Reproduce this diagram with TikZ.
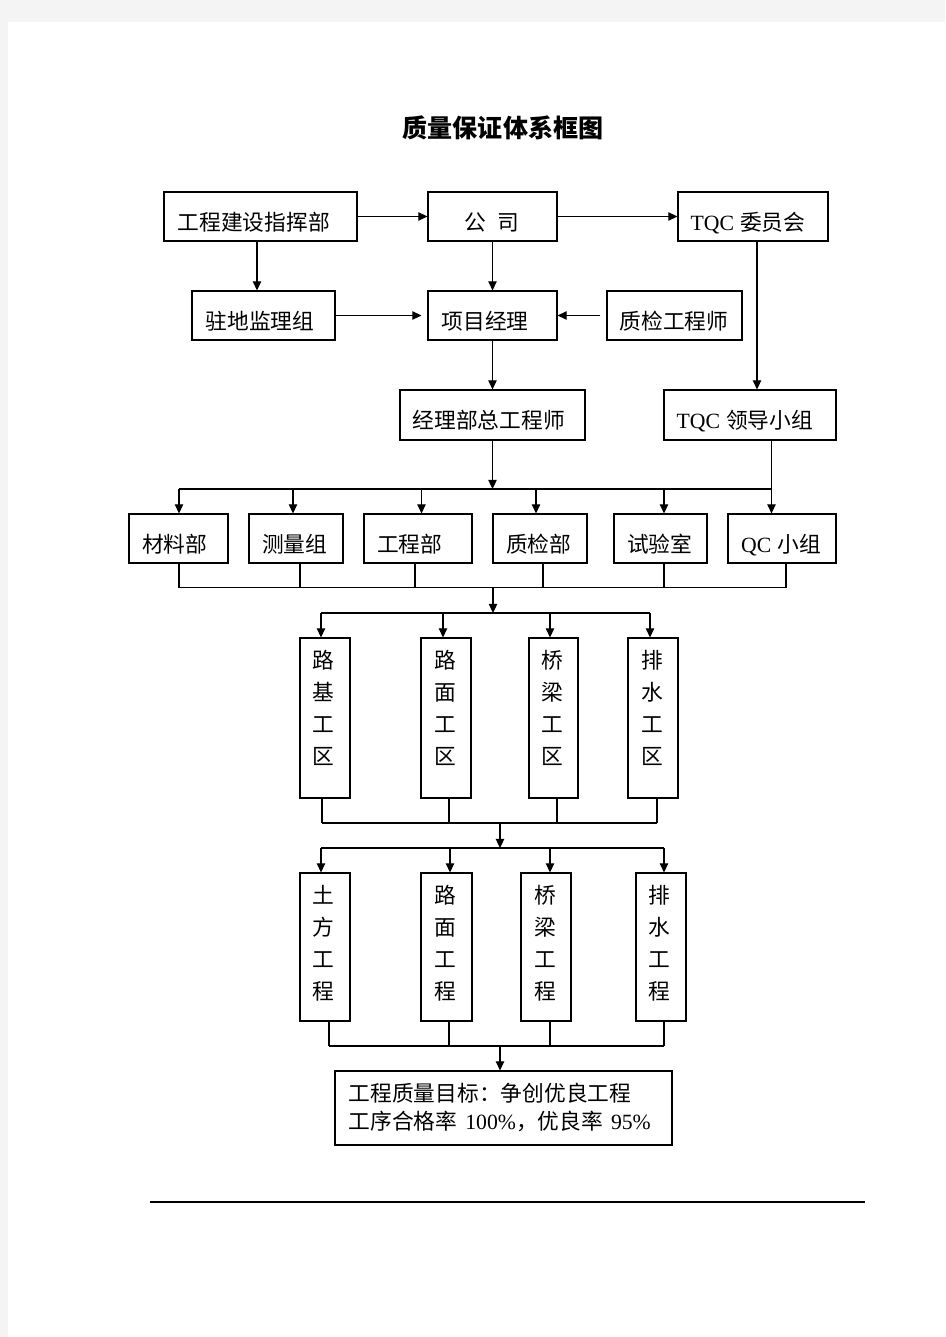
\documentclass[tikz,border=0pt]{standalone}
\usepackage{fontspec}
\setmainfont{Liberation Serif}
\newfontfamily\cjk{Noto Sans CJK SC}
\usetikzlibrary{arrows.meta,calc,fit}
\definecolor{pagegray}{HTML}{F4F4F4}
\newcommand{\lat}[1]{{\rmfamily #1}}
\tikzset{
  box/.style={draw, line width=0.85pt, inner sep=0pt},
  lbl/.style={anchor=west, inner sep=0pt, font={\cjk\fontsize{16.3}{20}\selectfont}, text height=13.5pt, text depth=1.1pt},
  vlbl/.style={anchor=north, inner sep=0pt, align=center, font={\cjk\fontsize{16.3}{23.8}\selectfont}},
  qlbl/.style={anchor=west, inner sep=0pt, align=left, font={\cjk\fontsize{16.3}{21}\selectfont}},
  arr/.style={line width=0.85pt, -{Triangle[length=6.8pt,width=6.3pt]}},
  ln/.style={line width=0.8pt}
}
\begin{document}
\begin{tikzpicture}[x=0.75pt,y=-0.75pt]
\useasboundingbox (0,0) rectangle (945,1337);
\fill[pagegray] (0,0) rectangle (945,1337);
\fill[white] (8,22) rectangle (945,1337);

% title
\node[inner sep=0pt, font={\cjk\bfseries\fontsize{18.8}{22}\selectfont}] (title) at (503,128) {质量保证体系框图};

% boxes
\node[box, fit={(164,192)(357,241)}] (A) {};
\node[box, fit={(428,192)(557,241)}] (B) {};
\node[box, fit={(678,192)(828,241)}] (C) {};
\node[box, fit={(192,291)(335,340)}] (D) {};
\node[box, fit={(428,291)(557,340)}] (E) {};
\node[box, fit={(607,291)(742,340)}] (F) {};
\node[box, fit={(400,390)(585,440)}] (G) {};
\node[box, fit={(664,390)(836,440)}] (H) {};
\node[box, fit={(129,514)(228,563)}] (M1) {};
\node[box, fit={(249,514)(343,563)}] (M2) {};
\node[box, fit={(364,514)(472,563)}] (M3) {};
\node[box, fit={(493,514)(587,563)}] (M4) {};
\node[box, fit={(614,514)(707,563)}] (M5) {};
\node[box, fit={(728,514)(836,563)}] (M6) {};
\node[box, fit={(300,638)(350,798)}] (W1) {};
\node[box, fit={(421,638)(471,798)}] (W2) {};
\node[box, fit={(529,638)(578,798)}] (W3) {};
\node[box, fit={(628,638)(678,798)}] (W4) {};
\node[box, fit={(300,873)(350,1021)}] (P1) {};
\node[box, fit={(421,873)(472,1021)}] (P2) {};
\node[box, fit={(521,873)(571,1021)}] (P3) {};
\node[box, fit={(636,873)(686,1021)}] (P4) {};
\node[box, fit={(335,1071)(672,1145)}] (Q) {};

% labels
\node[lbl] (At) at ($(A.west)+(14,5.5)$) {工程建设指挥部};
\node[lbl] (Bt) at ($(B.west)+(37,5.5)$) {公\hspace{8.3pt}司};
\node[lbl] (Ct) at ($(C.west)+(13,5.5)$) {\lat{TQC}\hspace{4.5pt}委员会};
\node[lbl] (Dt) at ($(D.west)+(14,5.5)$) {驻地监理组};
\node[lbl] (Et) at ($(E.west)+(14,5.5)$) {项目经理};
\node[lbl] (Ft) at ($(F.west)+(13,5.5)$) {质检工程师};
\node[lbl] (Gt) at ($(G.west)+(13,5.5)$) {经理部总工程师};
\node[lbl] (Ht) at ($(H.west)+(13,5.5)$) {\lat{TQC}\hspace{4.5pt}领导小组};
\node[lbl] (M1t) at ($(M1.west)+(13.5,5.5)$) {材料部};
\node[lbl] (M2t) at ($(M2.west)+(13.5,5.5)$) {测量组};
\node[lbl] (M3t) at ($(M3.west)+(13.5,5.5)$) {工程部};
\node[lbl] (M4t) at ($(M4.west)+(13.5,5.5)$) {质检部};
\node[lbl] (M5t) at ($(M5.west)+(13.5,5.5)$) {试验室};
\node[lbl] (M6t) at ($(M6.west)+(13.5,5.5)$) {\lat{QC}\hspace{4.5pt}小组};
\node[vlbl] (W1t) at ($(W1.north)+(-2,13)$) {路\\基\\工\\区};
\node[vlbl] (W2t) at ($(W2.north)+(-1,13)$) {路\\面\\工\\区};
\node[vlbl] (W3t) at ($(W3.north)+(-1,13)$) {桥\\梁\\工\\区};
\node[vlbl] (W4t) at ($(W4.north)+(-1,13)$) {排\\水\\工\\区};
\node[vlbl] (P1t) at ($(P1.north)+(-2,13)$) {土\\方\\工\\程};
\node[vlbl] (P2t) at ($(P2.north)+(-1,13)$) {路\\面\\工\\程};
\node[vlbl] (P3t) at ($(P3.north)+(-1,13)$) {桥\\梁\\工\\程};
\node[vlbl] (P4t) at ($(P4.north)+(-2,13)$) {排\\水\\工\\程};
\node[qlbl] (Qt) at ($(Q.west)+(14,-1)$) {工程质量目标：争创优良工程\\工序合格率\hspace{6pt}\lat{100\%}，优良率\hspace{6pt}\lat{95\%}};

% top connectors
\coordinate (xad) at (257,0);
\coordinate (xch) at (757,0);
\coordinate (xhq) at (771.5,0);
\draw[arr] (A.east) -- (B.west);
\draw[arr] (B.east) -- (C.west);
\draw[arr] (A.south -| xad) -- (D.north -| xad);
\draw[arr] (B.south) -- (E.north);
\draw[arr] (D.east) -- ($(E.west)+(-6,0)$);
\draw[arr] ($(F.west)+(-6,0)$) -- (E.east);
\draw[arr] (C.south -| xch) -- (H.north -| xch);
\draw[arr] (E.south) -- (G.north);
\draw[arr] (H.south -| xhq) -- (M6.north -| xhq);

% bus 1
\coordinate (j1) at (492.5,489);
\draw[arr] (G.south) -- (j1);
\coordinate (b1a) at (179,489);
\coordinate (b1b) at (771.5,489);
\draw[ln] (b1a) -- (b1b);
\foreach \x/\n in {179/M1,293/M2,421.5/M3,536/M4,664/M5}{
  \coordinate (d\n) at (\x,489);
  \draw[arr] (d\n) -- (d\n |- \n.north);
}
\foreach \x/\n in {179/M1,300/M2,415/M3,543/M4,664/M5,786/M6}{
  \coordinate (u\n) at (\x,587.7);
  \draw[ln] (u\n |- \n.south) -- (u\n);
}
\draw[ln] (uM1) -- (uM6);
\coordinate (j2) at (493,587.7);
\coordinate (k2) at (493,613);
\draw[arr] (j2) -- (k2);

% bus 2
\foreach \x/\n in {321/W1,443/W2,550/W3,650/W4}{
  \coordinate (d\n) at (\x,613);
  \draw[arr] (d\n) -- (d\n |- \n.north);
}
\draw[ln] (dW1) -- (dW4);
\foreach \x/\n in {322/W1,449/W2,557/W3,657/W4}{
  \coordinate (u\n) at (\x,823);
  \draw[ln] (u\n |- \n.south) -- (u\n);
}
\draw[ln] (uW1) -- (uW4);
\coordinate (j3) at (500,823);
\coordinate (k3) at (500,848);
\draw[arr] (j3) -- (k3);

% bus 3
\foreach \x/\n in {321/P1,450/P2,550/P3,664/P4}{
  \coordinate (d\n) at (\x,848);
  \draw[arr] (d\n) -- (d\n |- \n.north);
}
\draw[ln] (dP1) -- (dP4);
\foreach \x/\n in {329/P1,449/P2,550/P3,664/P4}{
  \coordinate (u\n) at (\x,1046);
  \draw[ln] (u\n |- \n.south) -- (u\n);
}
\draw[ln] (uP1) -- (uP4);
\coordinate (j4) at (500,1046);
\draw[arr] (j4) -- (j4 |- Q.north);

% footer rule
\draw[line width=1.5pt] (150,1202) -- (865,1202);
\end{tikzpicture}
\end{document}
